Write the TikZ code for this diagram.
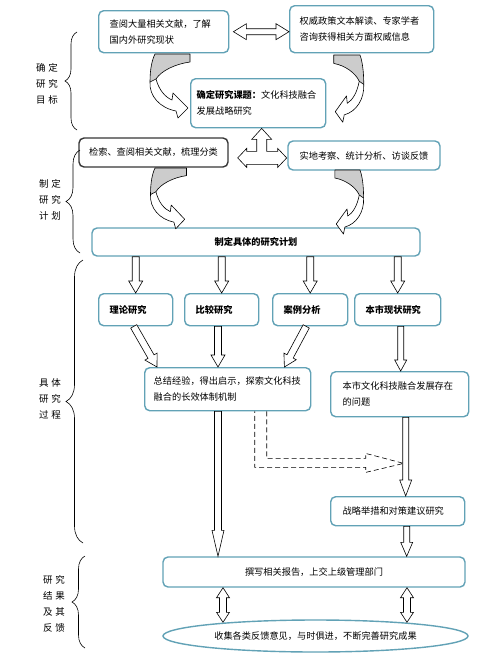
\documentclass[tikz,border=0pt]{standalone}
\usepackage{fontspec}
\setmainfont{Noto Sans CJK SC}
\usetikzlibrary{calc,decorations.pathreplacing,shapes.geometric}
\definecolor{boxline}{RGB}{98,162,182}
\definecolor{darkline}{RGB}{55,55,55}
\tikzset{
  box/.style={draw=boxline, line width=1.4pt, rounded corners=5pt, fill=white, inner ysep=2pt, font=\fontsize{9.2}{16}\selectfont},
  lbox/.style={box, align=left, anchor=north west},
  stage/.style={align=center, font=\fontsize{9.5}{16}\selectfont},
  hollow/.style={draw=black, line width=0.6pt, fill=white, line join=miter},
  curly/.style={decorate, decoration={brace, amplitude=#1}, line width=0.6pt},
  bendarrow/.pic={
    \fill[white] (0,0) -- (35,0) -- (35,8) .. controls (20,10) and (6,17) .. (1,25) .. controls (4,36) and (10,43) .. (17,46) -- (18,39) -- (33,54) -- (23,64) -- (21,57) .. controls (5,54) and (-6,42) .. (-5,28) .. controls (-5,15) and (-3,6) .. (0,0) -- cycle;
    \fill[gray!40] (0,0) -- (35,0) -- (35,8) .. controls (20,10) and (6,17) .. (1,25) -- (-5,28) .. controls (-5,15) and (-3,6) .. (0,0) -- cycle;
    \draw[line width=0.6pt, line join=round] (0,0) -- (35,0) -- (35,8) .. controls (20,10) and (6,17) .. (1,25) .. controls (4,36) and (10,43) .. (17,46) -- (18,39) -- (33,54) -- (23,64) -- (21,57) .. controls (5,54) and (-6,42) .. (-5,28) .. controls (-5,15) and (-3,6) .. (0,0) -- cycle;
    \draw[line width=0.6pt] (1,25) -- (-5,28);
  }
}
% 空心箭头: 选项, 起点, 终点, 半杆宽, 半头宽, 头长
\newcommand{\blockarrow}[6][]{%
  \coordinate (ba-s) at #2;
  \coordinate (ba-e) at #3;
  \coordinate (ba-m) at ($(ba-e)!#6!(ba-s)$);
  \draw[hollow,#1] ($(ba-s)!#4!90:(ba-e)$) -- ($(ba-m)!#4!90:(ba-e)$) -- ($(ba-m)!#5!90:(ba-e)$) -- (ba-e) -- ($(ba-m)!#5!-90:(ba-e)$) -- ($(ba-m)!#4!-90:(ba-e)$) -- ($(ba-s)!#4!-90:(ba-e)$) -- cycle;
}
% 双向空心箭头: 起点, 终点, 半杆宽, 半头宽, 头长
\newcommand{\dblockarrow}[5]{%
  \coordinate (ba-s) at #1;
  \coordinate (ba-e) at #2;
  \coordinate (ba-m) at ($(ba-s)!#5!(ba-e)$);
  \coordinate (ba-n) at ($(ba-e)!#5!(ba-s)$);
  \draw[hollow] (ba-s) -- ($(ba-m)!#4!90:(ba-e)$) -- ($(ba-m)!#3!90:(ba-e)$) -- ($(ba-n)!#3!90:(ba-e)$) -- ($(ba-n)!#4!90:(ba-e)$) -- (ba-e) -- ($(ba-n)!#4!-90:(ba-e)$) -- ($(ba-n)!#3!-90:(ba-e)$) -- ($(ba-m)!#3!-90:(ba-e)$) -- ($(ba-m)!#4!-90:(ba-e)$) -- cycle;
}
\begin{document}
\begin{tikzpicture}[x=1pt,y=-1pt]
\path[use as bounding box, fill=white] (0,0) rectangle (500,653);
% 确定研究目标
\node[lbox, text width=108pt, inner xsep=11pt, minimum height=42pt] (lit) at (98,10) {查阅大量相关文献，了解\\国内外研究现状};
\node[lbox, text width=124pt, inner xsep=10pt, minimum height=47pt] (auth) at (289,5) {权威政策文本解读、专家学者\\咨询获得相关方面权威信息};
\node[lbox, text width=123pt, inner xsep=6pt, minimum height=49pt] (topic) at (190,78) {\textbf{确定研究课题：}文化科技融合\\发展战略研究};
\coordinate (ab) at ([xshift=4pt]lit.east);
\dblockarrow{(ab)}{(ab -| auth.west)}{3pt}{8pt}{13pt};
\pic at (155,54) {bendarrow};
\pic[xscale=-0.75, yscale=1.05] at (360,55) {bendarrow};
% 制定研究计划
\node[box, draw=darkline, minimum width=149pt, minimum height=29pt] (search) at (153.5,152.5) {检索、查阅相关文献，梳理分类};
\node[box, minimum width=152pt, minimum height=29pt] (field) at (364,155.5) {实地考察、统计分析、访谈反馈};
\node[box, minimum width=328pt, minimum height=28pt, font=\fontsize{9.2}{16}\selectfont\bfseries] (plan) at (256,242) {制定具体的研究计划};
\coordinate (tw) at ([xshift=3.5pt]topic.south);
\draw[hollow] (tw) -- ++(10,11) -- ++(-5,0) -- ++(0,12) -- ++(11,0) -- ++(0,-3) -- ++(9,9.5) -- ++(-9,9.5) -- ++(0,-3) -- ++(-31,0) -- ++(0,3) -- ++(-9,-9.5) -- ++(9,-9.5) -- ++(0,3) -- ++(10,0) -- ++(0,-12) -- ++(-5,0) -- cycle;
\pic[xscale=0.9, yscale=0.95] at (155,168) {bendarrow};
\pic[xscale=-0.72] at (360,170) {bendarrow};
% 具体研究过程
\node[lbox, text width=52pt, inner xsep=11pt, minimum height=32pt, font=\fontsize{9.2}{16}\selectfont\bfseries] (m1) at (98,293) {理论研究};
\node[lbox, text width=52pt, inner xsep=11pt, minimum height=32pt, font=\fontsize{9.2}{16}\selectfont\bfseries] (m2) at (184,293) {比较研究};
\node[lbox, text width=53pt, inner xsep=11pt, minimum height=32pt, font=\fontsize{9.2}{16}\selectfont\bfseries] (m3) at (272,293) {案例分析};
\node[lbox, text width=64pt, inner xsep=11pt, minimum height=32pt, font=\fontsize{9.2}{16}\selectfont\bfseries] (m4) at (354,293) {本市现状研究};
\foreach \m in {m1,m2,m3,m4}
  \blockarrow{(plan.south -| \m.north)}{(\m.north)}{3.5pt}{7pt}{12pt};
\node[lbox, text width=148pt, inner xsep=9pt, minimum height=43pt] (sum) at (144,367) {总结经验，得出启示，探索文化科技\\融合的长效体制机制};
\node[lbox, text width=114pt, inner xsep=12pt, minimum height=45pt] (prob) at (330,371) {本市文化科技融合发展存在\\的问题};
\node[lbox, text width=110pt, inner xsep=12pt, minimum height=29pt] (strat) at (330,496) {战略举措和对策建议研究};
\coordinate (gin) at ([xshift=74pt]sum.north west);
\blockarrow{([xshift=-2pt]m1.south)}{([xshift=13pt]sum.north west)}{3.5pt}{7pt}{12pt};
\blockarrow{(m2.south -| gin)}{(gin)}{3.5pt}{7pt}{12pt};
\blockarrow{([xshift=-4pt]m3.south)}{([xshift=-27pt]sum.north east)}{3.5pt}{7pt}{12pt};
\coordinate (m4s) at ([xshift=3pt]m4.south);
\blockarrow{(m4s)}{(m4s |- prob.north)}{3pt}{6pt}{11pt};
\coordinate (dsh) at ([xshift=27pt]sum.south);
\draw[line width=0.6pt, dash pattern=on 5pt off 3pt] ([xshift=12pt]dsh) -- ++(0,47) -- ++(99,0) -- ++(0,-5) -- ++(38,10) -- ++(-38,9) -- ++(0,-5) -- ++(-111,0) -- (dsh);
\coordinate (hs) at ([xshift=6pt]prob.south);
\blockarrow{(hs)}{(hs |- strat.north)}{3pt}{6pt}{16pt};
% 研究结果及其反馈
\node[box, minimum width=302pt, minimum height=30pt] (rep) at (314,572) {撰写相关报告，上交上级管理部门};
\node[ellipse, draw=boxline, line width=1.4pt, fill=white, minimum width=305pt, minimum height=32pt, inner sep=0pt, font=\fontsize{9.2}{16}\selectfont] (fb) at (315.5,636) {收集各类反馈意见，与时俱进，不断完善研究成果};
\coordinate (gout) at ([xshift=74pt]sum.south west);
\blockarrow{(gout)}{(gout |- rep.north)}{3.5pt}{6pt}{26pt};
\coordinate (is) at ([xshift=9pt]strat.south);
\blockarrow{(is)}{(is |- rep.north)}{3pt}{6pt}{14pt};
\coordinate (jl) at ([xshift=-91pt]rep.south);
\coordinate (jr) at ([xshift=93pt]rep.south);
\dblockarrow{(jl)}{($(jl |- fb.north)+(0,3)$)}{3.5pt}{6.5pt}{10pt};
\dblockarrow{(jr)}{($(jr |- fb.north)+(0,3)$)}{3.5pt}{6.5pt}{10pt};
% 左侧大括号
\draw[curly=12pt] (77,130) -- (77,32);
\draw[curly=14pt] (80,253) -- (80,150);
\draw[curly=17pt] (83,543) -- (83,260);
\draw[curly=13pt] (85,648) -- (85,556);
\node[stage] (goal) at (47,84) {确\hspace{3pt}定\\研\hspace{3pt}究\\目\hspace{3pt}标};
\node[stage] (schedule) at (50,200) {制\hspace{3pt}定\\研\hspace{3pt}究\\计\hspace{3pt}划};
\node[stage] (process) at (50,399) {具\hspace{3pt}体\\研\hspace{3pt}究\\过\hspace{3pt}程};
\node[stage] (result) at (54,604) {研\hspace{3pt}究\\结\hspace{3pt}果\\及\hspace{3pt}其\\反\hspace{3pt}馈};
\end{tikzpicture}
\end{document}
